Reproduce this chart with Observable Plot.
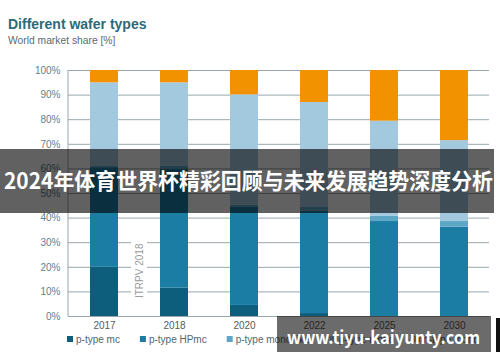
<!DOCTYPE html>
<html>
<head>
<meta charset="utf-8">
<script src="https://cdn.jsdelivr.net/npm/d3@7"></script>
<script src="https://cdn.jsdelivr.net/npm/@observablehq/plot@0.6"></script>
<style>
  html, body { margin: 0; padding: 0; background: #fff; }
  #chart svg { display: block; }
</style>
</head>
<body>
<div id="chart"></div>
<script>
// ---- data ----
const years = ["2017", "2018", "2020", "2022", "2025", "2030"];
const series = ["p-type mc", "p-type HPmc", "p-type mono-like", "p-type mono", "n-type mono"];
const seriesColors = ["#0d5e7d", "#1b7da3", "#5ea6c6", "#a3c9df", "#f39200"];
const pTypeMc       = [20,   11.5, 4.5,  1.2,  0,    0];
const pTypeHPmc     = [40.5, 48.5, 39.8, 41.6, 38.6, 36.3];
const pTypeMonoLike = [0.5,  1,    1,    1.5,  2.1,  2.3];
const pTypeMono     = [34,   34,   44.8, 42.7, 38.7, 32.9];
const nTypeMono     = [5,    5,    9.9,  13,   20.6, 28.5];
const yTicks = [0, 10, 20, 30, 40, 50, 60, 70, 80, 90, 100];
const yTickLabels = ["0%", "10%", "20%", "30%", "40%", "50%", "60%", "70%", "80%", "90%", "100%"];
const title = "Different wafer types";
const subtitle = "World market share [%]";
const annotation = "ITRPV 2018";
const bannerText = "2024年体育世界杯精彩回顾与未来发展趋势深度分析";
const watermarkText = "www.tiyu-kaiyunty.com";

const seriesValues = [pTypeMc, pTypeHPmc, pTypeMonoLike, pTypeMono, nTypeMono];
const rows = [];
series.forEach((s, i) => years.forEach((y, j) => rows.push({year: y, series: s, value: seriesValues[i][j]})));

const font = "'Liberation Sans', Arial, sans-serif";
const gridColor = "#9aa6ab";

const plot = Plot.plot({
  width: 500,
  height: 362,
  marginTop: 70,
  marginBottom: 46,
  marginLeft: 68,
  marginRight: 11,
  style: {background: "#fff", fontFamily: font, fontSize: "10px", overflow: "visible"},
  x: {domain: years, paddingInner: 0.6, paddingOuter: 0.3, axis: null},
  y: {domain: [0, 100], axis: null},
  color: {domain: series, range: seriesColors},
  marks: [
    Plot.ruleY(yTicks, {stroke: gridColor, strokeWidth: 1}),
    Plot.barY(rows, {x: "year", y: "value", fill: "series", order: series}),
    Plot.text(yTicks, {y: d => d, text: (d, i) => yTickLabels[i], frameAnchor: "left", dx: -8, textAnchor: "end", fill: "#5f7f8c", fontSize: 10}),
    Plot.text(years, {x: d => d, text: d => d, frameAnchor: "bottom", dy: 9, lineAnchor: "middle", fill: "#5a5a5a", fontSize: 10})
  ]
});
document.getElementById("chart").appendChild(plot);

const svg = d3.select(plot);
const xs = plot.scale("x");
const ys = plot.scale("y");

// left axis line
svg.append("line").attr("x1", xs.range[0]).attr("x2", xs.range[0])
  .attr("y1", ys.apply(0)).attr("y2", ys.apply(100)).attr("stroke", gridColor).attr("stroke-width", 1);

// ITRPV annotation between 2017 and 2018
const ax = (xs.apply("2017") + xs.bandwidth + xs.apply("2018")) / 2;
const ay = (ys.apply(5) + ys.apply(35)) / 2 + 4;
svg.append("rect").attr("x", ax - 8).attr("y", ay - 34).attr("width", 16).attr("height", 68).attr("fill", "#fff");
svg.append("text").attr("transform", `translate(${ax + 3.5},${ay}) rotate(-90)`)
  .attr("text-anchor", "middle").attr("font-family", font).attr("font-size", 10).attr("fill", "#9a9a9a").text(annotation);

// title + subtitle
svg.append("text").attr("x", 8).attr("y", 29).attr("text-anchor", "start").attr("font-family", font).attr("font-size", 14)
  .attr("font-weight", "bold").attr("fill", "#2c6a79").text(title);
svg.append("text").attr("x", 8).attr("y", 44).attr("text-anchor", "start").attr("font-family", font).attr("font-size", 10.3)
  .attr("fill", "#5a6a70").text(subtitle);

// legend
const lg = svg.append("g").attr("font-family", font).attr("font-size", 10).attr("text-anchor", "start");
let lx = 67;
series.forEach((s, i) => {
  lg.append("rect").attr("x", lx).attr("y", 336).attr("width", 6).attr("height", 6).attr("fill", seriesColors[i]);
  const t = lg.append("text").attr("x", lx + 9).attr("y", 343).attr("text-anchor", "start").attr("fill", "#4f6670").text(s);
  lx += 9 + t.node().getComputedTextLength() + 20;
});

// banner overlay
svg.append("rect").attr("x", 0).attr("y", 149).attr("width", 494).attr("height", 64).attr("fill", "rgba(0,0,0,0.62)");
svg.append("text").attr("x", 4).attr("y", 189).attr("text-anchor", "start").attr("font-family", "'Noto Sans CJK SC', sans-serif")
  .attr("font-size", 22).attr("font-weight", "bold").attr("fill", "#fff")
  .attr("textLength", 489).attr("lengthAdjust", "spacingAndGlyphs").text(bannerText);

// watermark overlay
svg.append("rect").attr("x", 277).attr("y", 316).attr("width", 214).attr("height", 36).attr("fill", "rgba(0,0,0,0.58)");
svg.append("rect").attr("x", 496).attr("y", 318).attr("width", 4).attr("height", 34).attr("fill", "#111");
svg.append("text").attr("x", 287).attr("y", 344).attr("text-anchor", "start").attr("font-family", "'Noto Sans CJK SC', sans-serif")
  .attr("font-size", 18).attr("font-weight", "bold").attr("fill", "#fff")
  .attr("textLength", 193).attr("lengthAdjust", "spacingAndGlyphs").text(watermarkText);
</script>
</body>
</html>
